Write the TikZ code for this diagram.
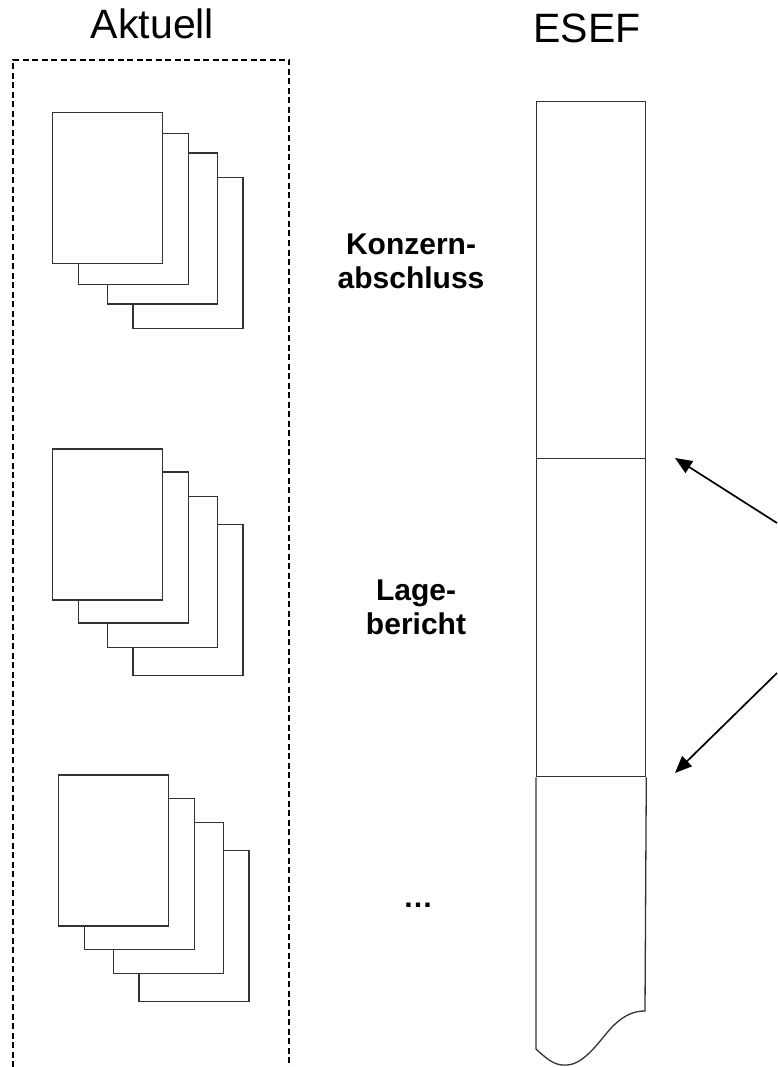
\documentclass[tikz,border=0pt]{standalone}
\usepackage{fontspec}
\setmainfont{Liberation Sans}
\usetikzlibrary{arrows.meta}
\definecolor{linegray}{HTML}{333333}
\tikzset{
  pagebox/.style={draw=linegray, fill=white, line width=1.3pt, inner sep=0pt,
    minimum width=110pt, minimum height=151pt, anchor=north west},
  heading/.style={font=\fontsize{41}{49}\selectfont, anchor=base, inner sep=0pt},
  label/.style={font=\fontsize{30}{34}\selectfont\bfseries, align=center, inner sep=0pt},
  frame/.style={draw=black, line width=1.2pt, dash pattern=on 6pt off 3.5pt},
  colseg/.style={draw=linegray, line width=1.3pt, inner sep=0pt, minimum width=109pt, anchor=north west},
  ptr/.style={draw=black, line width=1.7pt, -{Triangle[length=17pt,width=14pt]}}
}
\begin{document}
\begin{tikzpicture}[x=1pt,y=-1pt]
\useasboundingbox (0,0) rectangle (777,1067);
% headings
\node[heading] (aktuell) at (152.5,39) {Aktuell};
\node[heading] (esef) at (587,43) {ESEF};
% dashed frame (open at bottom)
\coordinate (fbl) at (13,1067);
\coordinate (ftl) at (13,60);
\coordinate (ftr) at (289,60);
\coordinate (fbr) at (289,1067);
\draw[frame] (fbl) -- (ftl) -- (ftr) -- (fbr);
% stack 1
\node[pagebox] (a4) at (132.3,177) {};
\node[pagebox] (a3) at (106.7,152.3) {};
\node[pagebox] (a2) at (77.7,132.7) {};
\node[pagebox] (a1) at (51.7,111.7) {};
% stack 2
\node[pagebox] (b4) at (132.3,524) {};
\node[pagebox] (b3) at (106.7,495.7) {};
\node[pagebox] (b2) at (77.7,471.3) {};
\node[pagebox] (b1) at (52,448.3) {};
% stack 3
\node[pagebox] (c4) at (138.3,850) {};
\node[pagebox] (c3) at (112.7,821.7) {};
\node[pagebox] (c2) at (83.7,797.7) {};
\node[pagebox] (c1) at (58,774.3) {};
% labels
\node[label] (konzern) at (411,261) {Konzern-\\abschluss};
\node[label] (lage) at (416,607.5) {Lage-\\bericht};
\node[label, anchor=base] (dots) at (418,907) {\dots};
% ESEF column
\node[colseg, minimum height=357pt] (s1) at (536,101) {};
\node[colseg, minimum height=318pt] (s2) at (536,458) {};
\draw[draw=linegray, line width=1.3pt] (s2.south west) -- (536,1049)
  .. controls (548,1060) and (555,1066) .. (567,1065)
  .. controls (585,1064) and (600,1040) .. (612,1027)
  .. controls (625,1014) and (635,1011) .. (645,1011)
  -- (s2.south east);
% arrows
\coordinate (o1) at (777,523);
\coordinate (t1) at (675,458);
\coordinate (o2) at (777,673);
\coordinate (t2) at (675,773);
\draw[ptr] (o1) -- (t1);
\draw[ptr] (o2) -- (t2);
\end{tikzpicture}
\end{document}
